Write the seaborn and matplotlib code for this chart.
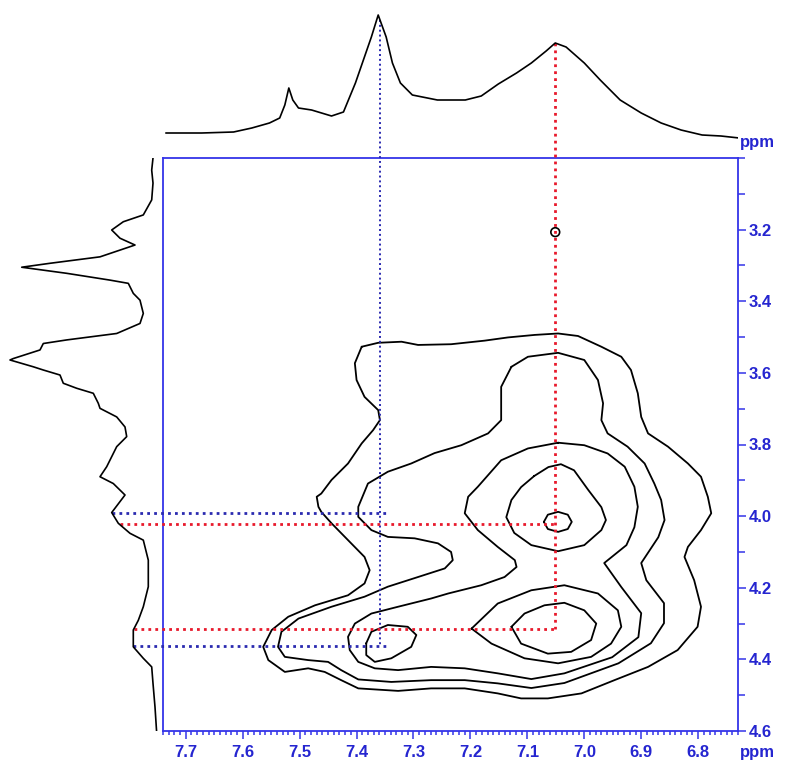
import numpy as np
import matplotlib
matplotlib.use("Agg")
import matplotlib.pyplot as plt
from matplotlib.ticker import MultipleLocator
import seaborn as sns

# ---- 1D projection on top (F2, ppm vs intensity) ----
top_ppm = [7.735, 7.672, 7.616, 7.584, 7.553, 7.535, 7.526, 7.519, 7.512, 7.502,
           7.479, 7.444, 7.423, 7.402, 7.388, 7.374, 7.362, 7.348, 7.337, 7.323,
           7.302, 7.258, 7.209, 7.181, 7.151, 7.119, 7.093, 7.067, 7.051, 7.032,
           7.000, 6.972, 6.937, 6.900, 6.865, 6.830, 6.793, 6.760, 6.728]
top_int = [7, 7, 8, 12, 17, 22, 35, 52, 40, 32,
           30, 24, 28, 57, 80, 103, 125, 103, 77, 57,
           45, 40, 40, 44, 56, 67, 77, 89, 97, 93,
           77, 60, 40, 27, 17, 10, 5, 4, 2]

# ---- 1D projection on the left (F1, ppm vs intensity) ----
left_ppm = [3.000, 3.034, 3.070, 3.117, 3.159, 3.178, 3.201, 3.224, 3.243, 3.276,
            3.294, 3.305, 3.322, 3.341, 3.350, 3.378, 3.397, 3.434, 3.462, 3.490,
            3.508, 3.518, 3.536, 3.560, 3.564, 3.583, 3.592, 3.606, 3.629, 3.643,
            3.657, 3.685, 3.699, 3.723, 3.751, 3.778, 3.806, 3.834, 3.862, 3.890,
            3.909, 3.941, 3.990, 4.020, 4.048, 4.067, 4.123, 4.197, 4.253, 4.291,
            4.318, 4.365, 4.397, 4.421, 4.467, 4.533, 4.606]
left_int = [0, 1.3, 0, 1.3, 9.7, 29.7, 41.3, 33, 18, 53,
            103, 131.3, 86.3, 43, 24.7, 19.7, 13, 9.7, 13, 36.3,
            86.3, 109.7, 113, 139.7, 143, 119.7, 109.7, 93, 89.7, 76.3,
            59.7, 54.7, 53, 36.3, 28, 26.3, 36.3, 41.3, 46.3, 53,
            39.7, 28, 41.3, 34.7, 23, 9.7, 4.7, 4.7, 9.7, 14.7,
            19.7, 19.7, 9.7, 1.3, 0, -2, -3.7]

# ---- contour traces, (F2 ppm, F1 ppm) ----
level1 = [(7.391, 3.527), (7.362, 3.516), (7.321, 3.513), (7.292, 3.522), (7.234, 3.520),
          (7.175, 3.510), (7.134, 3.501), (7.087, 3.494), (7.046, 3.490), (7.011, 3.497),
          (6.970, 3.527), (6.935, 3.555), (6.918, 3.592), (6.906, 3.657), (6.900, 3.723),
          (6.888, 3.769), (6.853, 3.806), (6.818, 3.853), (6.795, 3.890), (6.783, 3.946),
          (6.777, 3.992), (6.795, 4.039), (6.818, 4.086), (6.824, 4.114), (6.807, 4.179),
          (6.795, 4.253), (6.801, 4.309), (6.836, 4.374), (6.888, 4.421), (6.947, 4.458),
          (7.005, 4.495), (7.064, 4.509), (7.111, 4.509), (7.152, 4.495), (7.210, 4.481),
          (7.269, 4.481), (7.327, 4.488), (7.397, 4.481), (7.427, 4.458), (7.456, 4.435),
          (7.485, 4.425), (7.526, 4.435), (7.555, 4.402), (7.564, 4.365), (7.549, 4.318),
          (7.520, 4.281), (7.473, 4.249), (7.415, 4.221), (7.386, 4.188), (7.377, 4.151),
          (7.386, 4.114), (7.415, 4.067), (7.444, 4.020), (7.462, 3.988), (7.467, 3.974),
          (7.470, 3.946), (7.462, 3.937), (7.444, 3.899), (7.415, 3.853), (7.391, 3.797),
          (7.371, 3.760), (7.359, 3.732), (7.362, 3.704), (7.386, 3.667), (7.400, 3.620),
          (7.403, 3.573)]
level2 = [(7.128, 3.583), (7.099, 3.555), (7.046, 3.544), (7.000, 3.564), (6.976, 3.620),
          (6.967, 3.685), (6.970, 3.732), (6.959, 3.769), (6.924, 3.806), (6.894, 3.853),
          (6.877, 3.909), (6.865, 3.955), (6.859, 4.011), (6.870, 4.059), (6.900, 4.131),
          (6.891, 4.179), (6.860, 4.243), (6.860, 4.299), (6.883, 4.355), (6.940, 4.411),
          (7.035, 4.466), (7.093, 4.480), (7.152, 4.467), (7.210, 4.458), (7.269, 4.458),
          (7.339, 4.463), (7.397, 4.456), (7.427, 4.430), (7.450, 4.407), (7.485, 4.402),
          (7.526, 4.393), (7.538, 4.365), (7.532, 4.323), (7.502, 4.286), (7.444, 4.253),
          (7.386, 4.225), (7.345, 4.197), (7.292, 4.170), (7.245, 4.146), (7.231, 4.123),
          (7.234, 4.100), (7.257, 4.076), (7.298, 4.062), (7.345, 4.058), (7.374, 4.039),
          (7.397, 4.002), (7.397, 3.974), (7.380, 3.909), (7.345, 3.876), (7.304, 3.853),
          (7.263, 3.824), (7.216, 3.802), (7.169, 3.769), (7.146, 3.732), (7.146, 3.639)]
level3 = [(7.046, 3.795), (7.000, 3.802), (6.959, 3.825), (6.929, 3.862), (6.912, 3.918),
          (6.906, 3.974), (6.912, 4.031), (6.926, 4.081), (6.965, 4.131), (6.935, 4.198),
          (6.900, 4.271), (6.905, 4.338), (6.951, 4.394), (7.035, 4.439), (7.093, 4.455),
          (7.152, 4.439), (7.210, 4.425), (7.269, 4.421), (7.327, 4.430), (7.368, 4.425),
          (7.397, 4.407), (7.412, 4.374), (7.415, 4.337), (7.403, 4.300), (7.374, 4.272),
          (7.327, 4.253), (7.269, 4.230), (7.239, 4.216), (7.181, 4.193), (7.140, 4.170),
          (7.119, 4.142), (7.122, 4.123), (7.152, 4.086), (7.187, 4.039), (7.210, 3.992),
          (7.204, 3.946), (7.187, 3.918), (7.146, 3.844), (7.099, 3.811)]
level4_upper = [(7.088, 3.888), (7.063, 3.863), (7.041, 3.855), (7.018, 3.872), (6.993, 3.927),
                (6.970, 3.975), (6.962, 4.011), (6.970, 4.039), (7.000, 4.081), (7.046, 4.098),
                (7.093, 4.081), (7.123, 4.047), (7.137, 4.003), (7.128, 3.955), (7.111, 3.919)]
level4_lower = [(7.198, 4.314), (7.152, 4.244), (7.093, 4.207), (7.035, 4.193), (6.976, 4.216),
                (6.941, 4.263), (6.935, 4.309), (6.953, 4.356), (6.988, 4.393), (7.046, 4.411),
                (7.105, 4.397), (7.163, 4.356)]
level4_left = [(7.383, 4.355), (7.374, 4.323), (7.345, 4.304), (7.310, 4.309), (7.295, 4.332),
               (7.304, 4.365), (7.339, 4.397), (7.368, 4.407), (7.383, 4.388)]
level5_upper = [(7.071, 4.016), (7.064, 3.996), (7.046, 3.988), (7.029, 3.996), (7.022, 4.016),
                (7.029, 4.036), (7.046, 4.044), (7.064, 4.036)]
level5_lower = [(7.128, 4.309), (7.105, 4.272), (7.070, 4.249), (7.035, 4.242), (7.000, 4.263),
                (6.979, 4.300), (6.988, 4.346), (7.023, 4.379), (7.064, 4.384), (7.111, 4.356)]
contours = [level1, level2, level3, level4_upper, level4_lower, level4_left,
            level5_upper, level5_lower]

# small isolated spot
spot_f2 = [7.051]
spot_f1 = [3.207]

# cross-peak guides: F2 position and the two F1 positions
blue_f2, blue_f1 = 7.359, [3.990, 4.362]
red_f2, red_f1 = 7.051, [4.023, 4.314]

AXIS_BLUE = "#3434e8"
TEXT_BLUE = "#2525d0"

sns.set_style("white")
plt.rcParams["font.family"] = ["Liberation Sans", "DejaVu Sans"]

W, H = 790, 767
fig = plt.figure(figsize=(W / 100, H / 100), dpi=100)

ax = fig.add_axes([163 / W, 1 - 731 / H, 575 / W, 573 / H])
ax_top = fig.add_axes([163 / W, 1 - 150 / H, 575 / W, 145 / H])
ax_left = fig.add_axes([0, 1 - 731 / H, 160 / W, 573 / H])

xlim = (7.74, 6.73)
ylim = (4.6, 3.0)

# 2D contours
for c in contours:
    pts = c + [c[0]]
    sns.lineplot(x=[p[0] for p in pts], y=[p[1] for p in pts], sort=False,
                 estimator=None, color="black", linewidth=1.3, ax=ax)
sns.scatterplot(x=spot_f2, y=spot_f1, marker="o", s=40, facecolor="none",
                edgecolor="black", linewidth=1.2, ax=ax)

ax.set_xlim(xlim)
ax.set_ylim(ylim)
ax.set_xlabel("")
ax.set_ylabel("")
for s in ax.spines.values():
    s.set_color(AXIS_BLUE)
    s.set_linewidth(1.3)
    s.set_visible(True)
ax.yaxis.tick_right()
ax.xaxis.set_major_locator(MultipleLocator(0.1))
ax.xaxis.set_minor_locator(MultipleLocator(0.01))
ax.yaxis.set_major_locator(MultipleLocator(0.2))
ax.yaxis.set_minor_locator(MultipleLocator(0.1))
ax.set_xticks(np.round(np.arange(6.8, 7.75, 0.1), 1))
ax.set_yticks(np.round(np.arange(3.2, 4.61, 0.2), 1))
ax.tick_params(axis="both", which="both", direction="out", color=AXIS_BLUE,
               labelcolor=TEXT_BLUE, labelsize=12, width=1.1)
ax.tick_params(axis="x", which="major", length=6, pad=4, bottom=True, top=False)
ax.tick_params(axis="x", which="minor", length=3, bottom=True, top=False)
ax.tick_params(axis="y", which="major", length=6, pad=2, right=True, left=False)
ax.tick_params(axis="y", which="minor", length=5, right=True, left=False)
for lab in ax.get_xticklabels() + ax.get_yticklabels():
    lab.set_fontweight("bold")

# top trace
sns.lineplot(x=top_ppm, y=top_int, sort=False, estimator=None, color="black",
             linewidth=1.2, ax=ax_top)
ax_top.set_xlim(xlim)
ax_top.set_ylim(-10, 135)
ax_top.axis("off")

# left trace
sns.lineplot(x=left_int, y=left_ppm, sort=False, estimator=None, color="black",
             linewidth=1.2, ax=ax_left)
ax_left.set_xlim(153, -7)
ax_left.set_ylim(ylim)
ax_left.axis("off")

# guide lines joining projection peaks and cross peaks
def top_in_main(x, inten):
    d = ax_top.transData.transform((x, inten))
    return ax.transData.inverted().transform(d)[1]

def left_in_main(inten, y):
    d = ax_left.transData.transform((inten, y))
    return ax.transData.inverted().transform(d)[0]

for f2, f1s, col, lw_v in [(blue_f2, blue_f1, "#2a2ab0", 1.4), (red_f2, red_f1, "#e8192c", 2.0)]:
    y0 = top_in_main(f2, np.interp(-f2, -np.array(top_ppm), top_int))
    ax.plot([f2, f2], [y0, max(f1s)], color=col, linestyle=(0, (1, 1.5)),
            linewidth=lw_v, clip_on=False, zorder=5)
    for f1 in f1s:
        x0 = left_in_main(np.interp(f1, left_ppm, left_int), f1)
        x1 = f2 if col != "#2a2ab0" else f2 - 0.012
        ax.plot([x0, x1], [f1, f1], color=col, linestyle=(0, (1, 1.5)),
                linewidth=2.0, clip_on=False, zorder=5)

fig.text(757 / W, 1 - 143 / H, "ppm", color=TEXT_BLUE, fontsize=12,
         fontweight="bold", ha="center", va="center")
fig.text(757 / W, 1 - 752 / H, "ppm", color=TEXT_BLUE, fontsize=12,
         fontweight="bold", ha="center", va="center")

fig.savefig("out.png", dpi=100)
